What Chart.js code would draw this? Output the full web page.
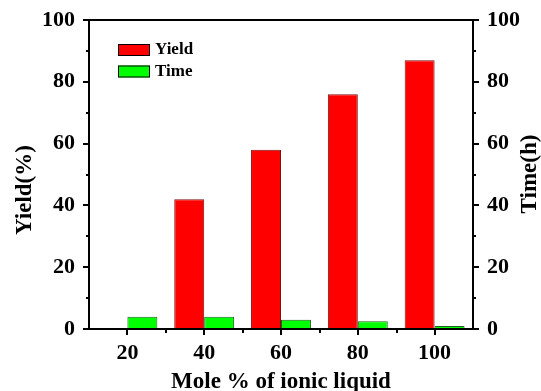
<!DOCTYPE html>
<html>
<head>
<meta charset="utf-8">
<script src="https://cdn.jsdelivr.net/npm/chart.js@4.4.0/dist/chart.umd.min.js"></script>
<style>
  body { margin: 0; background: #fff; }
  canvas { display: block; }
</style>
</head>
<body>
<canvas id="yield-chart" width="541" height="391"></canvas>
<script>
const molePercent = ["20", "40", "60", "80", "100"];
const yieldValues = [0, 42, 58, 76, 87];
const timeValues = [4, 4, 3, 2.5, 1];
const seriesNames = ["Yield", "Time"];
const seriesColors = ["#ff0000", "#00ff00"];
const seriesBorders = ["#7a1010", "#1f5f1f"];

const serif = "'Liberation Serif', 'Times New Roman', serif";

// frame lines, major/minor ticks, y titles and legend are drawn by hand
const framePlugin = {
  id: "frame",
  afterDraw(chart) {
    const ctx = chart.ctx;
    const { left, right, top, bottom } = chart.chartArea;
    const x = chart.scales.x;
    const y = chart.scales.y;
    ctx.save();
    ctx.strokeStyle = "#000";
    ctx.lineWidth = 2;
    ctx.beginPath();
    ctx.moveTo(left - 1, top);
    ctx.lineTo(right + 1, top);
    ctx.moveTo(left - 1, bottom);
    ctx.lineTo(right + 1, bottom);
    ctx.stroke();

    ctx.beginPath();
    for (let v = 0; v <= 100; v += 10) {
      const py = Math.round(y.getPixelForValue(v));
      const len = v % 20 === 0 ? 6 : 3;
      ctx.moveTo(left, py);
      ctx.lineTo(left - len, py);
      ctx.moveTo(right, py);
      ctx.lineTo(right + len, py);
    }
    const step = x.getPixelForValue(1) - x.getPixelForValue(0);
    molePercent.forEach((label, i) => {
      const px = Math.round(x.getPixelForValue(i));
      ctx.moveTo(px, bottom);
      ctx.lineTo(px, bottom + 6);
      if (i > 0) {
        const mx = Math.round(px - step / 2);
        ctx.moveTo(mx, bottom);
        ctx.lineTo(mx, bottom + 4);
      }
    });
    ctx.stroke();

    // both y titles read bottom to top
    ctx.fillStyle = "#000";
    ctx.font = "bold 23px " + serif;
    ctx.textAlign = "center";
    ctx.textBaseline = "middle";
    ctx.translate(25, 190);
    ctx.rotate(-Math.PI / 2);
    ctx.fillText("Yield(%)", 0, 0);
    ctx.setTransform(1, 0, 0, 1, 0, 0);
    ctx.translate(530, 174);
    ctx.rotate(-Math.PI / 2);
    ctx.fillText("Time(h)", 0, 0);
    ctx.setTransform(1, 0, 0, 1, 0, 0);

    // legend
    ctx.font = "bold 17px " + serif;
    ctx.textAlign = "left";
    seriesNames.forEach((name, i) => {
      const by = 44 + i * 21.5;
      ctx.fillStyle = seriesColors[i];
      ctx.fillRect(118, by, 32, 12);
      ctx.lineWidth = 1;
      ctx.strokeStyle = "#000";
      ctx.strokeRect(118.5, by + 0.5, 31, 11);
      ctx.fillStyle = "#000";
      ctx.fillText(name, 155, by + 6);
    });
    ctx.restore();
  },
};

const tickFont = { family: serif, size: 22, weight: "bold" };

// grid is hidden; tickLength only sets the label offset
const yieldChart = new Chart(document.getElementById("yield-chart"), {
  type: "bar",
  data: {
    labels: molePercent,
    datasets: [
      {
        label: seriesNames[0],
        data: yieldValues,
        backgroundColor: seriesColors[0],
        borderColor: seriesBorders[0],
        borderWidth: 1,
        yAxisID: "y",
      },
      {
        label: seriesNames[1],
        data: timeValues,
        backgroundColor: seriesColors[1],
        borderColor: seriesBorders[1],
        borderWidth: 1,
        yAxisID: "y1",
      },
    ],
  },
  options: {
    responsive: false,
    animation: false,
    devicePixelRatio: 1,
    layout: { padding: { top: 20, left: 0, right: 0, bottom: 0 } },
    datasets: { bar: { barPercentage: 1, categoryPercentage: 0.78 } },
    plugins: { legend: { display: false }, tooltip: { enabled: false } },
    scales: {
      x: {
        grid: { display: false, drawTicks: true, tickLength: 11 },
        border: { display: false },
        ticks: { color: "#000", font: tickFont, padding: 0, maxRotation: 0 },
        title: {
          display: true,
          text: "Mole % of ionic liquid",
          color: "#000",
          font: { family: serif, size: 23, weight: "bold", lineHeight: 1 },
          padding: { top: 0, bottom: -3 },
        },
        afterFit(scale) {
          scale.height = 62;
        },
      },
      y: {
        position: "left",
        min: 0,
        max: 100,
        grid: { display: false, drawTicks: true, tickLength: 14 },
        border: { display: true, color: "#000", width: 2 },
        ticks: { stepSize: 20, color: "#000", font: tickFont, padding: 0 },
        afterFit(scale) {
          scale.width = 89;
        },
      },
      y1: {
        position: "right",
        min: 0,
        max: 100,
        grid: { display: false, drawTicks: true, tickLength: 14 },
        border: { display: true, color: "#000", width: 2 },
        ticks: { stepSize: 20, color: "#000", font: tickFont, padding: 0 },
        afterFit(scale) {
          scale.width = 68;
        },
      },
    },
  },
  plugins: [framePlugin],
});
</script>
</body>
</html>
